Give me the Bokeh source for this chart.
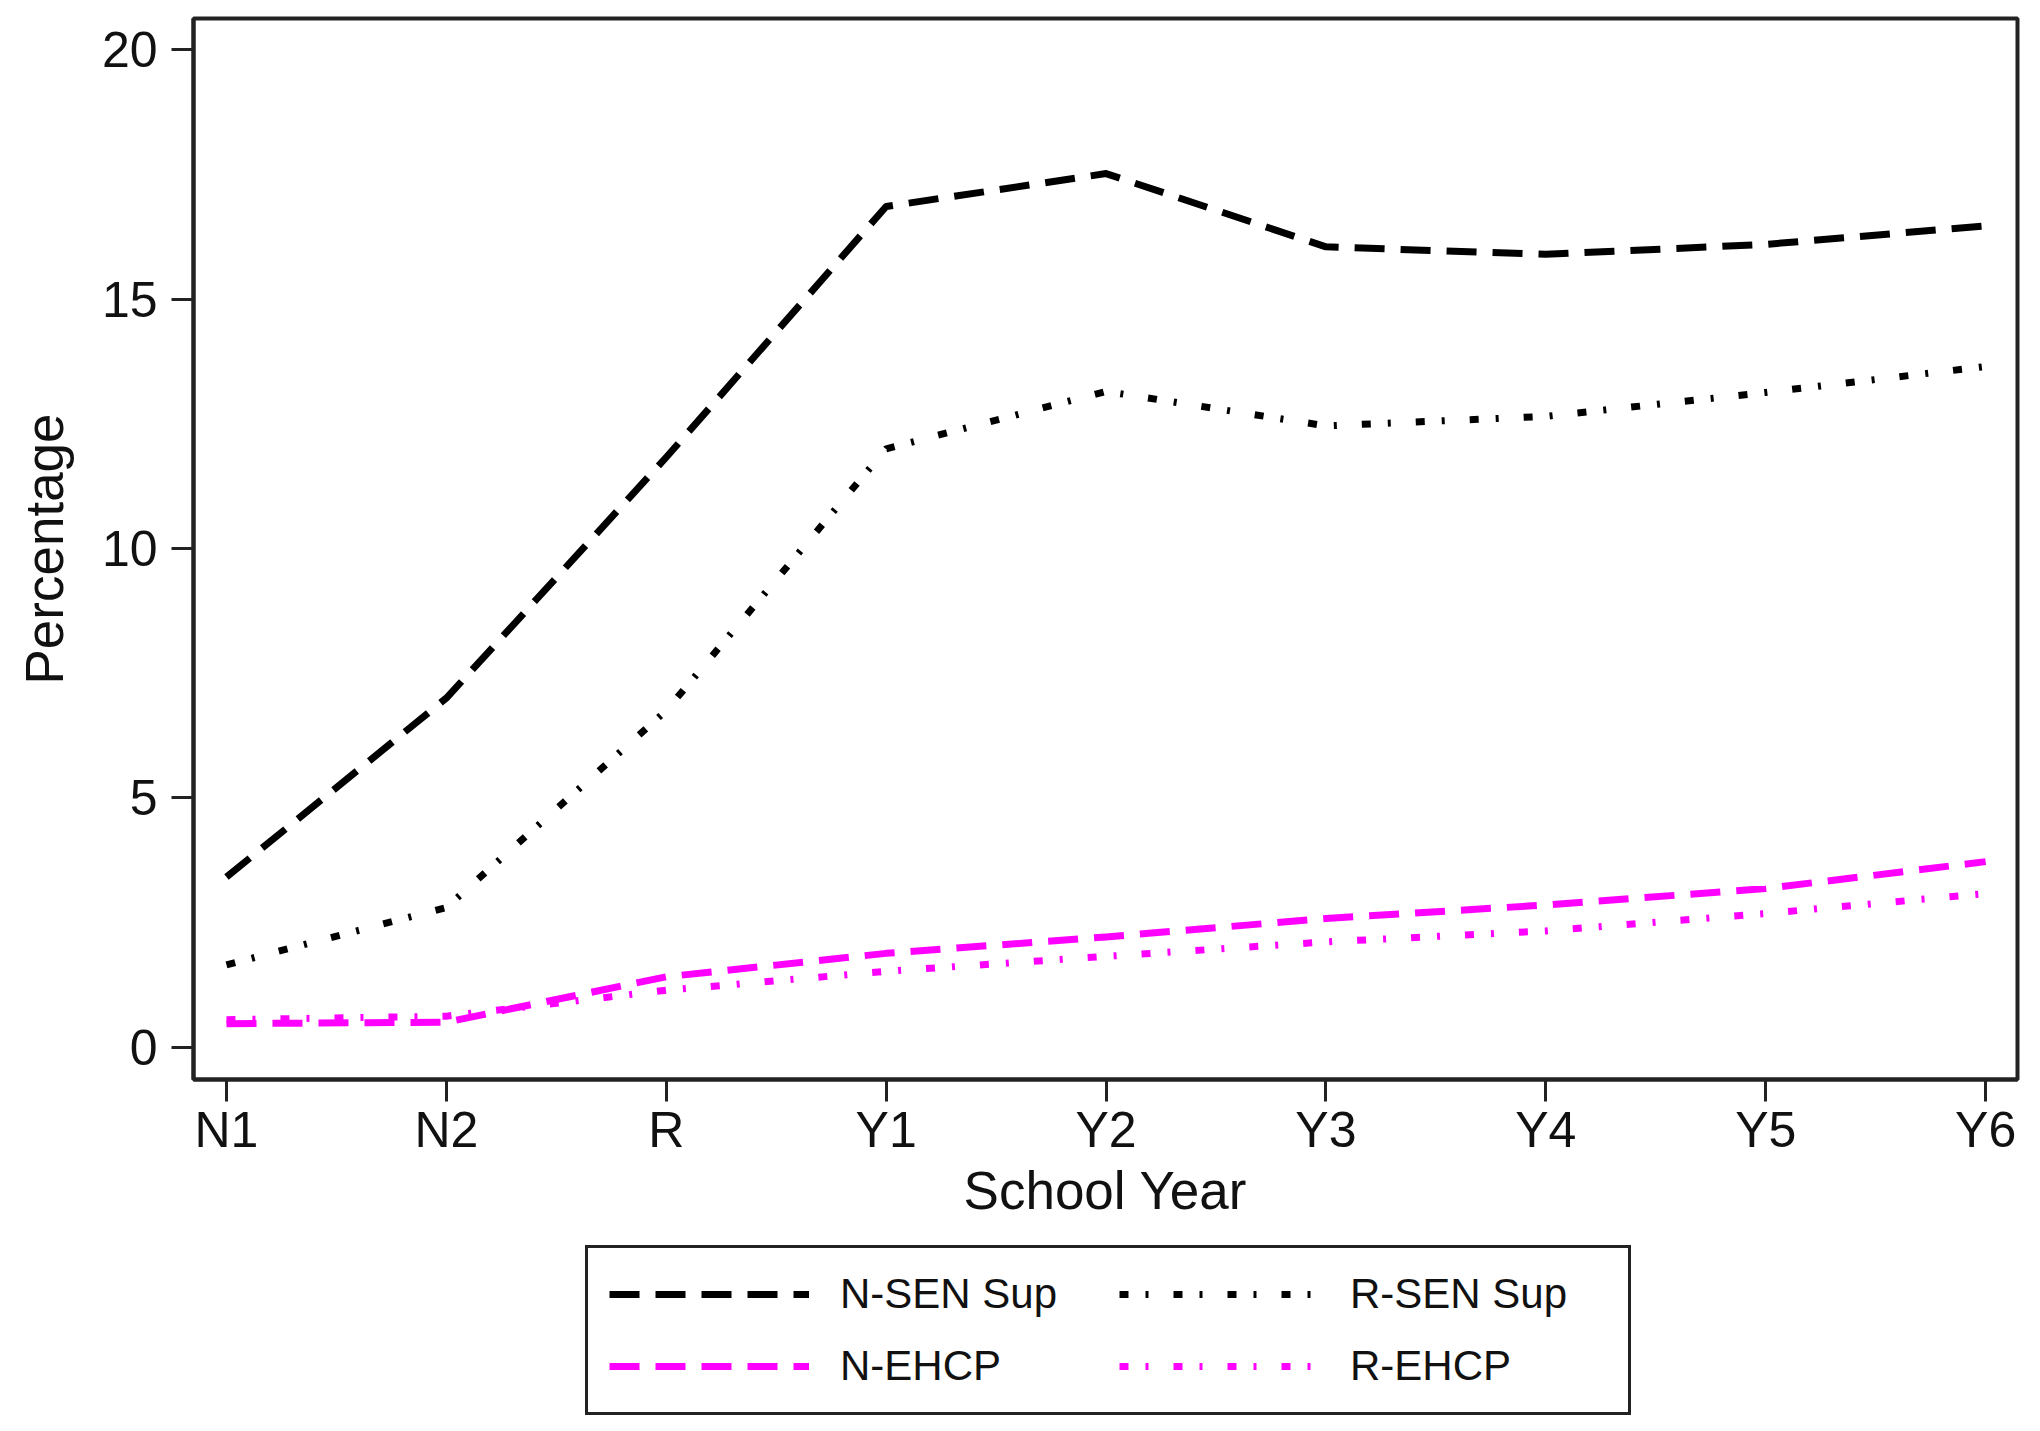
from bokeh.plotting import figure
from bokeh.layouts import column
from bokeh.models import Range1d, FixedTicker, Legend, LegendItem
from bokeh.embed import file_html
from bokeh.resources import INLINE

# ---- data ----
years = ["N1", "N2", "R", "Y1", "Y2", "Y3", "Y4", "Y5", "Y6"]
n_sen_sup = [3.41, 7.0, 11.83, 16.86, 17.52, 16.05, 15.9, 16.1, 16.47]
r_sen_sup = [1.65, 2.8, 6.75, 12.0, 13.15, 12.46, 12.65, 13.13, 13.65]
n_ehcp = [0.47, 0.5, 1.41, 1.88, 2.21, 2.58, 2.85, 3.18, 3.72]
r_ehcp = [0.55, 0.62, 1.14, 1.52, 1.82, 2.11, 2.33, 2.68, 3.08]
y_ticks = [0, 5, 10, 15, 20]
series_names = ["N-SEN Sup", "R-SEN Sup", "N-EHCP", "R-EHCP"]

x = list(range(len(years)))
FONT = "Liberation Sans"
DARK = "#222222"
MAGENTA = "#FF00FF"
W = 2024
H_MAIN = 1240
H_LEG = 175
LEFT = 193

styles = [dict(line_color="black", line_dash="30 16"),
          dict(line_color="black", line_dash="9 17 3 25"),
          dict(line_color=MAGENTA, line_dash="30 16"),
          dict(line_color=MAGENTA, line_dash="9 17 3 25")]
series = [n_sen_sup, r_sen_sup, n_ehcp, r_ehcp]

# ---- main chart ----
p = figure(width=W, height=H_MAIN,
           x_range=Range1d(-0.15, 8.145), y_range=Range1d(-0.65, 20.63),
           min_border_left=LEFT, min_border_right=7, min_border_top=18,
           min_border_bottom=H_MAIN - 1079,
           output_backend="svg", toolbar_location=None)

p.background_fill_color = "white"
p.border_fill_color = "white"
p.outline_line_color = DARK
p.outline_line_width = 4
p.grid.visible = False

for ax in (p.xaxis[0], p.yaxis[0]):
    ax.axis_line_color = DARK
    ax.axis_line_width = 4
    ax.major_tick_line_color = DARK
    ax.major_tick_line_width = 3
    ax.major_tick_out = 22
    ax.major_tick_in = 0
    ax.minor_tick_line_color = None
    ax.major_label_text_font = FONT
    ax.major_label_text_font_size = "50px"
    ax.major_label_text_color = "#111111"
    ax.axis_label_text_font = FONT
    ax.axis_label_text_font_size = "53px"
    ax.axis_label_text_font_style = "normal"
    ax.axis_label_text_color = "#111111"

p.xaxis.ticker = FixedTicker(ticks=x)
p.xaxis.major_label_overrides = {i: lab for i, lab in zip(x, years)}
p.xaxis.major_label_standoff = 0
p.xaxis.axis_label = "School Year"
p.xaxis.axis_label_standoff = 0

p.yaxis.ticker = FixedTicker(ticks=y_ticks)
p.yaxis.major_label_standoff = 14
p.yaxis.axis_label = "Percentage"
p.yaxis.axis_label_standoff = 25

for ys, st in zip(series, styles):
    p.line(x, ys, line_width=7, line_join="round", **st)

# ---- legend strip below the chart ----
q = figure(width=W, height=H_LEG, x_range=Range1d(0, 1), y_range=Range1d(0, 1),
           x_axis_location=None, y_axis_location=None,
           min_border=0, output_backend="svg", toolbar_location=None)
q.outline_line_color = None
q.grid.visible = False
q.background_fill_color = "white"
q.border_fill_color = "white"

leg_renderers = []
for ys, st in zip(series, styles):
    r = q.line(x, ys, line_width=7, visible=False, **st)
    leg_renderers.append(r)

# the column aligns this strip's frame with the chart's frame (left = 193)
legend = Legend(items=[LegendItem(label=n, renderers=[r])
                       for n, r in zip(series_names, leg_renderers)],
                orientation="horizontal", ncols=2, location=(585 - LEFT, 0),
                label_text_font=FONT, label_text_font_size="42px",
                label_text_color="#111111", glyph_width=200, glyph_height=50,
                label_standoff=31, label_width=257, padding=21, spacing=22,
                margin=0, inactive_fill_alpha=0.0,
                border_line_color=DARK, border_line_width=3,
                border_line_alpha=1.0,
                background_fill_color="white", background_fill_alpha=1.0)
q.add_layout(legend, "center")

layout = column(p, q, spacing=0)
open("out.html", "w").write(file_html(layout, INLINE))
